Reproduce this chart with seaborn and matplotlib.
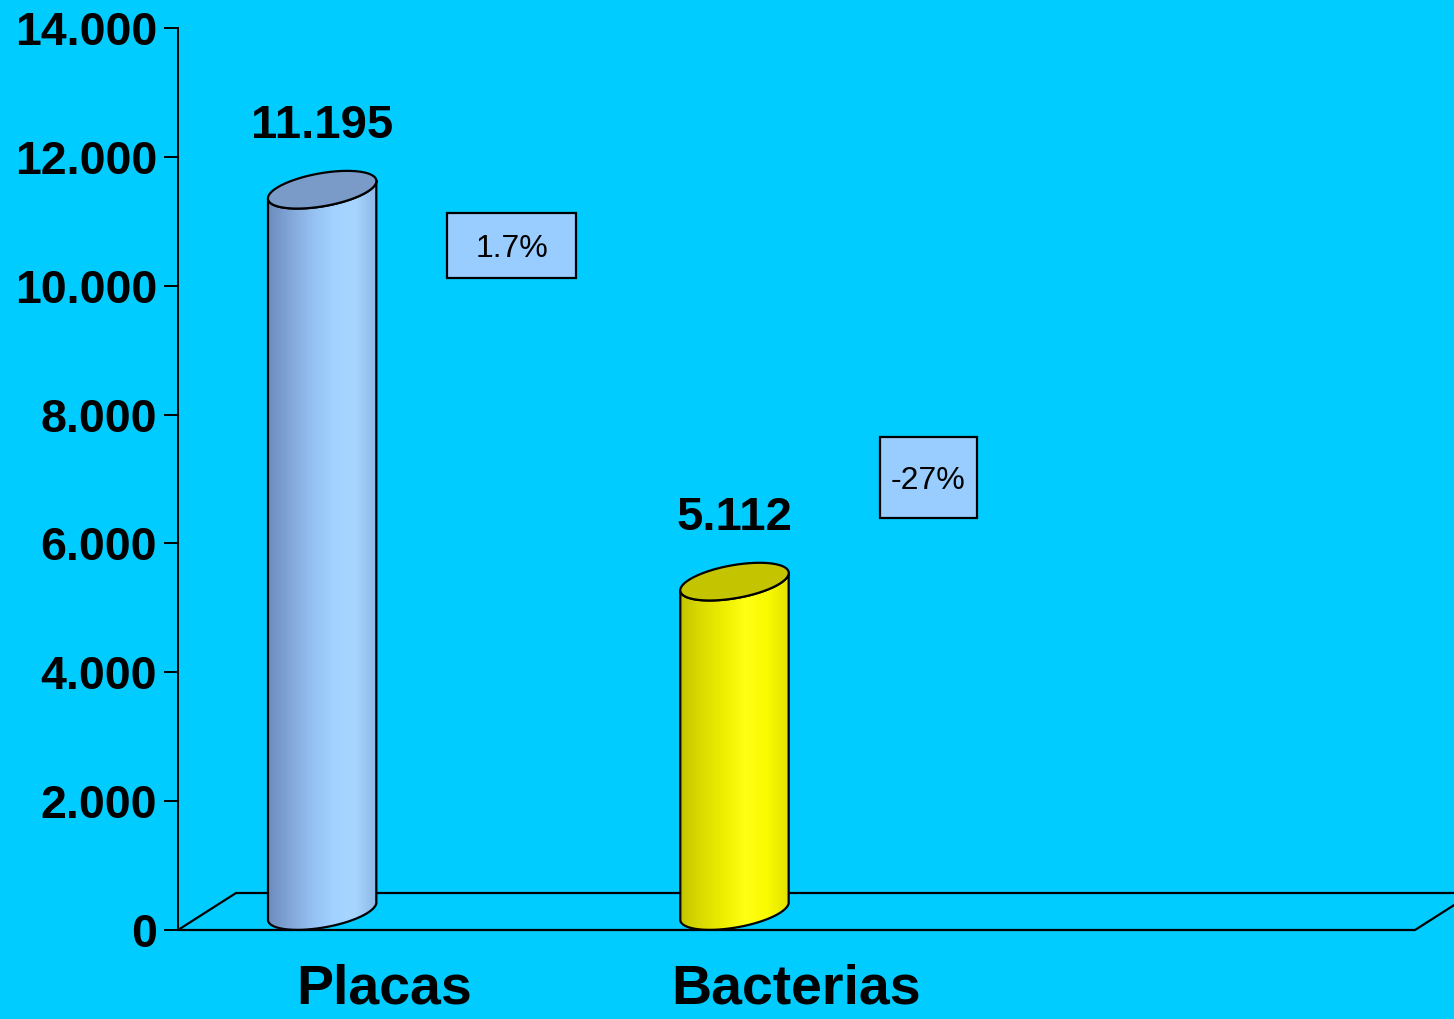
import numpy as np
import pandas as pd
import matplotlib
matplotlib.use("Agg")
import matplotlib.pyplot as plt
import seaborn as sns
from matplotlib.patches import Polygon, Rectangle
from matplotlib.colors import LinearSegmentedColormap

# data
categories = ["Placas", "Bacterias"]
values = [11195, 5112]
changes = ["1.7%", "-27%"]
yticks = [0, 2000, 4000, 6000, 8000, 10000, 12000, 14000]

# layout (pixels of the 1454x1019 picture)
W, H = 1454, 1019
BG = "#00CCFF"
AX_L, AX_R, AX_T, AX_B = 178, 1415, 28, 930
DEPTH = (58, 37)           # floor depth offset in px
CYL_SHIFT = -62            # cylinder centre relative to category centre, px
A, B, TILT = 55, 16.5, np.deg2rad(10)
CAP_LIFT = 19              # ellipse centre above value line, px

body_colors = [
    ["#6C8CBC", "#82A6D8", "#94C0F0", "#A2D2FF", "#A6D6FF", "#8EB6E6"],
    ["#C4C400", "#DCDC00", "#EEEE00", "#FFFF14", "#FAFA00", "#E2E200"],
]
top_colors = ["#7A9BC8", "#C4C400"]
box_centers = [(0.31, 10630), (1.32, 7030)]
box_sizes_px = [(129, 65), (97, 81)]

sns.set_theme(style="white")
plt.rcParams["font.family"] = ["Liberation Sans", "DejaVu Sans"]

fig = plt.figure(figsize=(W / 100, H / 100), dpi=100, facecolor=BG)
ax = fig.add_axes([AX_L / W, (H - AX_B) / H, (AX_R - AX_L) / W, (AX_B - AX_T) / H])
ax.set_facecolor("none")

df = pd.DataFrame({"cat": categories, "val": values})
sns.barplot(data=df, x="cat", y="val", ax=ax, errorbar=None, width=0.26,
            color=BG, linewidth=0)

ax.set_xlim(-0.5, 2.5)
ax.set_ylim(0, 14000)
sx = (AX_R - AX_L) / 3.0        # px per category unit
sy = (AX_B - AX_T) / 14000.0    # px per value unit


def ellipse(cx, cy, t):
    dx = A * np.cos(t) * np.cos(TILT) - B * np.sin(t) * np.sin(TILT)
    dy = A * np.cos(t) * np.sin(TILT) + B * np.sin(t) * np.cos(TILT)
    return np.column_stack([cx + dx / sx, cy + dy / sy])


# floor
dx, dy = DEPTH[0] / (AX_R - AX_L), DEPTH[1] / (AX_B - AX_T)
floor = Polygon([(0, 0), (1, 0), (1 + dx, dy), (dx, dy)], closed=True,
                transform=ax.transAxes, facecolor="none", edgecolor="black",
                lw=1.6, clip_on=False, zorder=1)
ax.add_patch(floor)

for i, p in enumerate(ax.patches[:len(values)]):
    p.set_visible(False)
    xc = p.get_x() + p.get_width() / 2 + CYL_SHIFT / sx
    val = p.get_height()
    cy_top = val + CAP_LIFT / sy
    cy_bot = CAP_LIFT / sy
    front = np.linspace(np.pi, 2 * np.pi, 80)
    body_pts = np.vstack([ellipse(xc, cy_bot, front), ellipse(xc, cy_top, front[::-1])])
    body = Polygon(body_pts, closed=True, facecolor="none", edgecolor="black",
                   lw=1.6, zorder=4)
    ax.add_patch(body)
    cmap = LinearSegmentedColormap.from_list("g%d" % i, body_colors[i])
    grad = np.linspace(0, 1, 256).reshape(1, -1)
    x0, x1 = body_pts[:, 0].min(), body_pts[:, 0].max()
    im = ax.imshow(grad, cmap=cmap, aspect="auto", extent=[x0, x1, 0, cy_top + 30 / sy],
                   zorder=3, interpolation="bilinear")
    im.set_clip_path(body)
    top = Polygon(ellipse(xc, cy_top, np.linspace(0, 2 * np.pi, 120)), closed=True,
                  facecolor=top_colors[i], edgecolor="black", lw=1.6, zorder=5)
    ax.add_patch(top)
    ax.annotate(f"{int(val):,}".replace(",", "."), xy=(xc, val), xytext=(0, 51),
                textcoords="offset points", ha="center", va="baseline",
                fontsize=34, fontweight="bold", color="black", zorder=6)

for (bx, by), (bw, bh), txt in zip(box_centers, box_sizes_px, changes):
    w, h = bw / sx, bh / sy
    ax.add_patch(Rectangle((bx - w / 2, by - h / 2), w, h, facecolor="#99CCFF",
                           edgecolor="black", lw=1.6, zorder=6))
    ax.annotate(txt, xy=(bx, by), xytext=(0, -3), textcoords="offset points",
                ha="center", va="center", fontsize=23, color="black", zorder=7)

ax.set_xlim(-0.5, 2.5)
ax.set_ylim(0, 14000)
ax.set_yticks(yticks)
ax.set_yticklabels([f"{v:,}".replace(",", ".") for v in yticks],
                   fontsize=33.5, fontweight="bold")
ax.set_xticks(range(len(categories)))
ax.set_xticklabels(categories, fontsize=40, fontweight="bold")
ax.tick_params(axis="y", direction="out", length=10, width=1.4, pad=5,
               colors="black", left=True)
ax.tick_params(axis="x", length=0, pad=24, colors="black")
ax.set_xlabel("")
ax.set_ylabel("")
for s in ["top", "right", "bottom"]:
    ax.spines[s].set_visible(False)
ax.spines["left"].set_color("black")
ax.spines["left"].set_linewidth(1.4)

fig.savefig("out.png", dpi=100, facecolor=BG)
